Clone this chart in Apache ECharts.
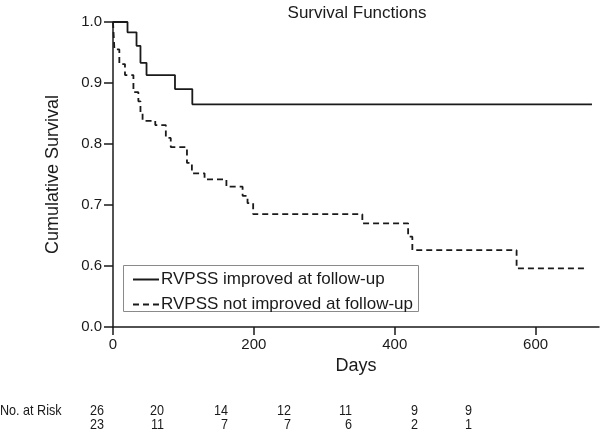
<!DOCTYPE html>
<html><head><meta charset="utf-8">
<script src="https://cdn.jsdelivr.net/npm/echarts@6/dist/echarts.min.js"></script>
<style>html,body{margin:0;padding:0;background:#fff}#c{width:600px;height:433px}</style>
</head><body><div id="c"></div>
<script>
// ---- data ----
const seriesNames = ['RVPSS improved at follow-up', 'RVPSS not improved at follow-up'];
const improvedDays = [0, 20.6, 33.4, 39, 47.6, 88, 112.6, 680];
const improvedSurv = [1.0, 0.983, 0.961, 0.933, 0.913, 0.890, 0.865, 0.865];
const notImprovedDays = [0, 2, 9, 17, 29, 36, 39, 42, 60, 75, 82, 105, 112, 130, 161, 184, 191, 199, 354, 419, 425, 573, 674];
const notImprovedSurv = [1.0, 0.955, 0.931, 0.913, 0.885, 0.870, 0.850, 0.838, 0.831, 0.810, 0.795, 0.769, 0.752, 0.742, 0.730, 0.715, 0.703, 0.685, 0.670, 0.648, 0.626, 0.596, 0.596];
const xTickValues = [0, 200, 400, 600];
const yTickValues = [0.5, 0.6, 0.7, 0.8, 0.9, 1.0];
const yTickLabels = ['0.0', '0.6', '0.7', '0.8', '0.9', '1.0'];
const riskLabel = 'No. at Risk';
const riskImproved = [26, 20, 14, 12, 11, 9, 9];
const riskNotImproved = [23, 11, 7, 7, 6, 2, 1];

// ---- layout ----
const FONT = '"Liberation Sans", Arial, sans-serif';
const riskRightEdges = [104, 164, 228, 291, 352, 418, 472];
const riskRowsY = [411, 425];
const NARROW_SCALE = 0.84;

const zip = (a, b) => a.map((v, i) => [v, b[i]]);
const graphics = [
  {type: 'rect', left: 123, top: 265, shape: {width: 295, height: 46}, style: {fill: '#fff', stroke: '#8a8a8a', lineWidth: 1}, z: 1},
  {type: 'text', x: 0, y: riskRowsY[0], scaleX: NARROW_SCALE,
    style: {text: riskLabel, font: '15px ' + FONT, fill: '#1a1a1a', align: 'left', verticalAlign: 'middle'}}
];
[riskImproved, riskNotImproved].forEach((row, r) => {
  row.forEach((n, i) => {
    graphics.push({type: 'text', x: riskRightEdges[i], y: riskRowsY[r], scaleX: NARROW_SCALE,
      style: {text: String(n), font: '15px ' + FONT, fill: '#1a1a1a', align: 'right', verticalAlign: 'middle'}});
  });
});

const chart = echarts.init(document.getElementById('c'), null, {renderer: 'canvas'});
chart.setOption({
  animation: false,
  backgroundColor: '#fff',
  title: {text: 'Survival Functions', left: 352, top: 0, textAlign: 'center',
    textStyle: {fontFamily: FONT, fontSize: 17, fontWeight: 'normal', color: '#1a1a1a'}},
  grid: {left: 113, top: 22, width: 486, height: 305, containLabel: false},
  legend: {orient: 'vertical', left: 132, top: 271, itemWidth: 26, itemHeight: 14, itemGap: 8, padding: 0,
    itemStyle: {opacity: 0},
    data: seriesNames, textStyle: {fontFamily: FONT, fontSize: 17, color: '#1a1a1a', padding: [0, 0, 0, -3]}, z: 5},
  xAxis: {type: 'value', min: 0, max: 690, interval: 200,
    name: 'Days', nameLocation: 'middle', nameGap: 30,
    nameTextStyle: {fontFamily: FONT, fontSize: 18, color: '#1a1a1a'},
    axisLine: {lineStyle: {color: '#1a1a1a', width: 1.5}},
    axisTick: {length: 8, lineStyle: {color: '#1a1a1a', width: 1.5}, customValues: xTickValues},
    axisLabel: {fontFamily: FONT, fontSize: 15, color: '#1a1a1a', margin: 10, customValues: xTickValues},
    splitLine: {show: false}},
  yAxis: {type: 'value', min: 0.5, max: 1.0, interval: 0.1,
    name: 'Cumulative Survival', nameLocation: 'middle', nameGap: 51,
    nameTextStyle: {fontFamily: FONT, fontSize: 18, color: '#1a1a1a'},
    axisLine: {show: true, lineStyle: {color: '#1a1a1a', width: 1.5}},
    axisTick: {show: true, length: 9, lineStyle: {color: '#1a1a1a', width: 1.5}},
    axisLabel: {fontFamily: FONT, fontSize: 15, color: '#1a1a1a', margin: 11,
      formatter: v => { const i = yTickValues.findIndex(t => Math.abs(t - v) < 1e-6); return i >= 0 ? yTickLabels[i] : ''; }},
    splitLine: {show: false}},
  series: [
    {name: seriesNames[0], type: 'line', step: 'end', symbol: 'none', data: zip(improvedDays, improvedSurv),
      lineStyle: {color: '#1a1a1a', width: 1.8, type: 'solid'}, itemStyle: {color: '#1a1a1a'}},
    {name: seriesNames[1], type: 'line', step: 'end', symbol: 'none', data: zip(notImprovedDays, notImprovedSurv),
      lineStyle: {color: '#1a1a1a', width: 1.8, type: [6, 4]}, itemStyle: {color: '#1a1a1a'}}
  ],
  graphic: graphics
});
</script></body></html>
